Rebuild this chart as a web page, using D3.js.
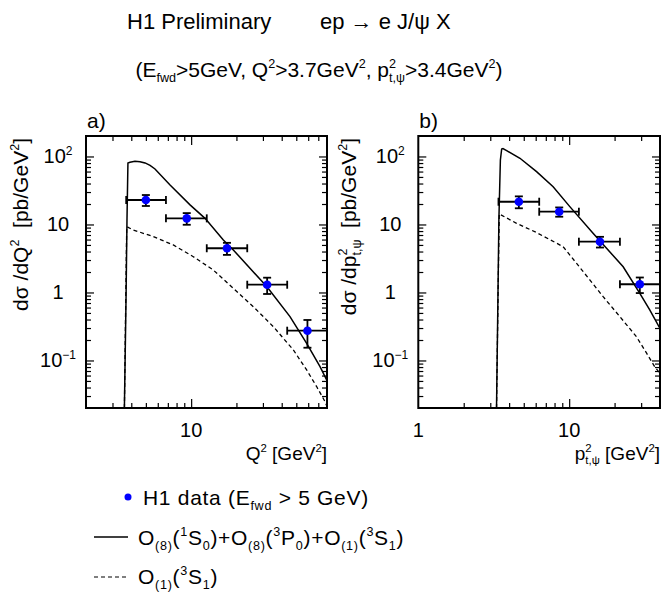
<!DOCTYPE html>
<html>
<head>
<meta charset="utf-8">
<script src="https://cdn.jsdelivr.net/npm/d3@7"></script>
<style>
  body { margin: 0; background: #fff; }
  svg text { font-family: "Liberation Sans", Arial, sans-serif; fill: #000; white-space: pre; }
  svg text.leg { letter-spacing: 0.7px; }
</style>
</head>
<body>
<div id="chart"></div>
<script>
var svgWidth = 662;
var svgHeight = 592;

// ---- data ----
// panel a) : d sigma / d Q^2
var qCenter = [5.0, 9.35, 17.3, 32, 59.3];
var qLo     = [3.7, 6.8, 12.7, 23.6, 43.5];
var qHi     = [6.8, 12.7, 23.6, 43.5, 80];
var qSigma  = [22.9, 12.3, 4.47, 1.30, 0.274];
var qErr    = [4.2, 2.4, 0.9, 0.35, 0.12];

var qTotX  = [3.60, 3.69, 3.745, 3.80, 3.92, 4.23, 4.57, 4.94, 5.33, 5.75, 7.24, 9.83, 12.37, 16.37, 19.07, 31.8, 45.4, 58.6, 71.9, 79.6];
var qTotY  = [0.02, 0.776, 11.6, 80.3, 82.2, 85.3, 83.9, 80.3, 73.8, 65.5, 38.1, 19.4, 12.3, 5.92, 4.22, 1.22, 0.441, 0.179, 0.081, 0.0516];
var qSingX = [3.60, 3.68, 3.73, 4.125, 5.61, 7.61, 10.34, 14.03, 19.07, 25.9, 35.2, 47.8, 58.6, 68.4, 77.6, 80];
var qSingY = [0.02, 1.0, 9.3, 8.3, 6.62, 5.0, 3.36, 2.14, 1.15, 0.618, 0.314, 0.143, 0.0725, 0.041, 0.0248, 0.021];

// panel b) : d sigma / d p_t^2
var pCenter = [4.64, 8.59, 16.0, 29.4];
var pLo     = [3.4, 6.33, 11.6, 21.7];
var pHi     = [6.33, 11.6, 21.7, 40];
var pSigma  = [21.6, 15.4, 5.58, 1.32];
var pErr    = [4.3, 2.4, 1.0, 0.34];

var pTotX  = [3.30, 3.37, 3.42, 3.50, 3.57, 3.64, 3.85, 4.72, 6.08, 7.83, 10.1, 14.4, 22.8, 29.4, 34.2, 39.9];
var pTotY  = [0.02, 0.776, 11.6, 88.8, 128.9, 131, 121.7, 94.1, 59.8, 35.9, 18.3, 7.43, 2.39, 0.973, 0.553, 0.298];
var pSingX = [3.30, 3.38, 3.44, 4.48, 6.08, 9.12, 11.2, 13.7, 16.8, 21.7, 27.9, 32.6, 36.9, 39.9];
var pSingY = [0.02, 1.0, 14.3, 10.4, 7.6, 4.71, 2.68, 1.53, 0.867, 0.44, 0.224, 0.128, 0.081, 0.065];

// tick values
var yMajor = [0.1, 1, 10, 100];
var yMinor = [0.03, 0.04, 0.05, 0.06, 0.07, 0.08, 0.09,
              0.2, 0.3, 0.4, 0.5, 0.6, 0.7, 0.8, 0.9,
              2, 3, 4, 5, 6, 7, 8, 9,
              20, 30, 40, 50, 60, 70, 80, 90];
var yLabels = [[["10", ""], ["\u22121", "sup"]], [["1", ""]], [["10", ""]], [["10", ""], ["2", "sup"]]];
var qMinor = [3, 4, 5, 6, 7, 8, 9, 20, 30, 40, 50, 60, 70];
var pMinor = [2, 3, 4, 5, 6, 7, 8, 9, 20, 30];

var svg = d3.select("#chart")
  .append("svg")
  .attr("width", svgWidth)
  .attr("height", svgHeight);

// text with sub/superscripts; "subunder" puts a subscript under the previous superscript
function rich(textSel, parts, size) {
  var shift = 0;
  var last = null;
  parts.forEach(function(p) {
    var mode = p[1];
    var s = mode === "sup" ? -0.42 * size : (mode === "sub" || mode === "subunder") ? 0.22 * size : 0;
    var ts = textSel.append("tspan")
      .text(p[0])
      .attr("dy", s - shift)
      .style("font-size", (mode ? size * 0.6 : size) + "px");
    if (mode === "subunder" && last) {
      ts.attr("dx", -last.node().getComputedTextLength());
    }
    shift = s;
    last = ts;
  });
  return textSel;
}

// titles
rich(svg.append("text").attr("x", 127).attr("y", 29), [["H1 Preliminary", ""]], 22);
rich(svg.append("text").attr("x", 320).attr("y", 29), [["ep \u2192 e J/\u03c8 X", ""]], 22);
rich(svg.append("text").attr("x", 319).attr("y", 77).attr("text-anchor", "middle"),
  [["(E", ""], ["fwd", "sub"], [">5GeV, Q", ""], ["2", "sup"], [">3.7GeV", ""], ["2", "sup"],
   [", p", ""], ["2", "sup"], ["t,\u03c8", "subunder"], [">3.4GeV", ""], ["2", "sup"], [")", ""]], 21);

var yTop = 136, yBot = 408;

function panel(opt) {
  var x = d3.scaleLog().domain(opt.xDomain).range([opt.left, opt.right]);
  var y = d3.scaleLog().domain([0.02, 200]).range([yBot, yTop]);
  var g = svg.append("g");
  var w = opt.right - opt.left, h = yBot - yTop;

  g.append("clipPath").attr("id", opt.id)
    .append("rect").attr("x", opt.left).attr("y", yTop).attr("width", w).attr("height", h);

  // ticks (inside the frame, on all four sides)
  function ticks(axisFn, scale, vals, size, tr) {
    var a = g.append("g")
      .attr("transform", tr)
      .call(axisFn(scale).tickValues(vals).tickSize(size).tickFormat(""));
    a.select(".domain").remove();
    a.selectAll("line").attr("stroke", "#000").attr("stroke-width", 1.2);
  }
  ticks(d3.axisBottom, x, opt.xMinor, -5, "translate(0," + yBot + ")");
  ticks(d3.axisBottom, x, [10], -9, "translate(0," + yBot + ")");
  ticks(d3.axisTop, x, opt.xMinor, -5, "translate(0," + yTop + ")");
  ticks(d3.axisTop, x, [10], -9, "translate(0," + yTop + ")");
  ticks(d3.axisLeft, y, yMinor, -5, "translate(" + opt.left + ",0)");
  ticks(d3.axisLeft, y, yMajor, -8, "translate(" + opt.left + ",0)");
  ticks(d3.axisRight, y, yMinor, -5, "translate(" + opt.right + ",0)");
  ticks(d3.axisRight, y, yMajor, -8, "translate(" + opt.right + ",0)");

  // curves
  var line = d3.line()
    .x(function(d) { return x(d[0]); })
    .y(function(d) { return y(d[1]); });
  var cg = g.append("g").attr("clip-path", "url(#" + opt.id + ")");
  cg.append("path")
    .attr("d", line(d3.zip(opt.singX, opt.singY)))
    .attr("fill", "none").attr("stroke", "#000").attr("stroke-width", 1.3)
    .attr("stroke-dasharray", "4,3");
  cg.append("path")
    .attr("d", line(d3.zip(opt.totX, opt.totY)))
    .attr("fill", "none").attr("stroke", "#000").attr("stroke-width", 1.5);

  // data with error bars
  var pts = opt.center.map(function(c, i) {
    return { x: c, lo: opt.lo[i], hi: opt.hi[i], s: opt.sigma[i], e: opt.err[i] };
  });
  var eb = g.append("g").attr("stroke", "#000").attr("stroke-width", 1.8);
  pts.forEach(function(d) {
    eb.append("line").attr("x1", x(d.lo)).attr("x2", x(d.hi)).attr("y1", y(d.s)).attr("y2", y(d.s));
    eb.append("line").attr("x1", x(d.lo)).attr("x2", x(d.lo)).attr("y1", y(d.s) - 4).attr("y2", y(d.s) + 4);
    eb.append("line").attr("x1", x(d.hi)).attr("x2", x(d.hi)).attr("y1", y(d.s) - 4).attr("y2", y(d.s) + 4);
    eb.append("line").attr("x1", x(d.x)).attr("x2", x(d.x)).attr("y1", y(d.s + d.e)).attr("y2", y(d.s - d.e));
    eb.append("line").attr("x1", x(d.x) - 4).attr("x2", x(d.x) + 4).attr("y1", y(d.s + d.e)).attr("y2", y(d.s + d.e));
    eb.append("line").attr("x1", x(d.x) - 4).attr("x2", x(d.x) + 4).attr("y1", y(d.s - d.e)).attr("y2", y(d.s - d.e));
  });
  g.selectAll("circle.pt")
    .data(pts)
    .enter()
    .append("circle")
    .attr("class", "pt")
    .attr("cx", function(d) { return x(d.x); })
    .attr("cy", function(d) { return y(d.s); })
    .attr("r", 4.3)
    .attr("fill", "#0000ff");

  // frame
  g.append("rect")
    .attr("x", opt.left).attr("y", yTop).attr("width", w).attr("height", h)
    .attr("fill", "none").attr("stroke", "#000").attr("stroke-width", 2);

  // tick labels
  yMajor.forEach(function(v, i) {
    rich(g.append("text")
      .attr("x", opt.left - 28).attr("y", y(v) + 7)
      .attr("text-anchor", "middle"), yLabels[i], 20);
  });
  opt.xLabels.forEach(function(v) {
    rich(g.append("text")
      .attr("x", x(v)).attr("y", 437)
      .attr("text-anchor", "middle"), [[String(v), ""]], 20);
  });

  // panel letter, axis titles
  rich(g.append("text").attr("x", opt.left + 1).attr("y", 128), [[opt.letter, ""]], 21);
  rich(g.append("text").attr("x", opt.right).attr("y", 460).attr("text-anchor", "end"), opt.xTitle, 19);
  rich(g.append("text")
    .attr("transform", "translate(" + opt.yTitleX + "," + (yTop + 2) + ") rotate(-90)")
    .attr("text-anchor", "end"), opt.yTitle, 21);
}

panel({
  id: "clipA", letter: "a)",
  left: 86, right: 327, xDomain: [2, 80],
  xMinor: qMinor, xLabels: [10],
  center: qCenter, lo: qLo, hi: qHi, sigma: qSigma, err: qErr,
  totX: qTotX, totY: qTotY, singX: qSingX, singY: qSingY,
  xTitle: [["Q", ""], ["2", "sup"], [" [GeV", ""], ["2", "sup"], ["]", ""]],
  yTitle: [["d\u03c3 /dQ", ""], ["2", "sup"], ["  [pb/GeV", ""], ["2", "sup"], ["]", ""]],
  yTitleX: 28
});

panel({
  id: "clipB", letter: "b)",
  left: 418.3, right: 660, xDomain: [1, 40],
  xMinor: pMinor, xLabels: [1, 10],
  center: pCenter, lo: pLo, hi: pHi, sigma: pSigma, err: pErr,
  totX: pTotX, totY: pTotY, singX: pSingX, singY: pSingY,
  xTitle: [["p", ""], ["2", "sup"], ["t,\u03c8", "subunder"], [" [GeV", ""], ["2", "sup"], ["]", ""]],
  yTitle: [["d\u03c3 /dp", ""], ["2", "sup"], ["t,\u03c8", "subunder"], ["  [pb/GeV", ""], ["2", "sup"], ["]", ""]],
  yTitleX: 356
});

// legend
var leg = svg.append("g");
leg.append("circle").attr("cx", 128).attr("cy", 497).attr("r", 3.5).attr("fill", "#0000ff");
rich(leg.append("text").attr("class", "leg").attr("x", 143).attr("y", 505),
  [["H1 data (E", ""], ["fwd", "sub"], [" > 5 GeV)", ""]], 21);
leg.append("line").attr("x1", 94).attr("x2", 128).attr("y1", 537).attr("y2", 537)
  .attr("stroke", "#000").attr("stroke-width", 1.3);
rich(leg.append("text").attr("class", "leg").attr("x", 138).attr("y", 545),
  [["O", ""], ["(8)", "sub"], ["(", ""], ["1", "sup"], ["S", ""], ["0", "sub"], [")+O", ""], ["(8)", "sub"],
   ["(", ""], ["3", "sup"], ["P", ""], ["0", "sub"], [")+O", ""], ["(1)", "sub"], ["(", ""], ["3", "sup"],
   ["S", ""], ["1", "sub"], [")", ""]], 21);
leg.append("line").attr("x1", 94).attr("x2", 128).attr("y1", 577).attr("y2", 577)
  .attr("stroke", "#000").attr("stroke-width", 1.2).attr("stroke-dasharray", "4,3");
rich(leg.append("text").attr("class", "leg").attr("x", 138).attr("y", 584),
  [["O", ""], ["(1)", "sub"], ["(", ""], ["3", "sup"], ["S", ""], ["1", "sub"], [")", ""]], 21);
</script>
</body>
</html>
